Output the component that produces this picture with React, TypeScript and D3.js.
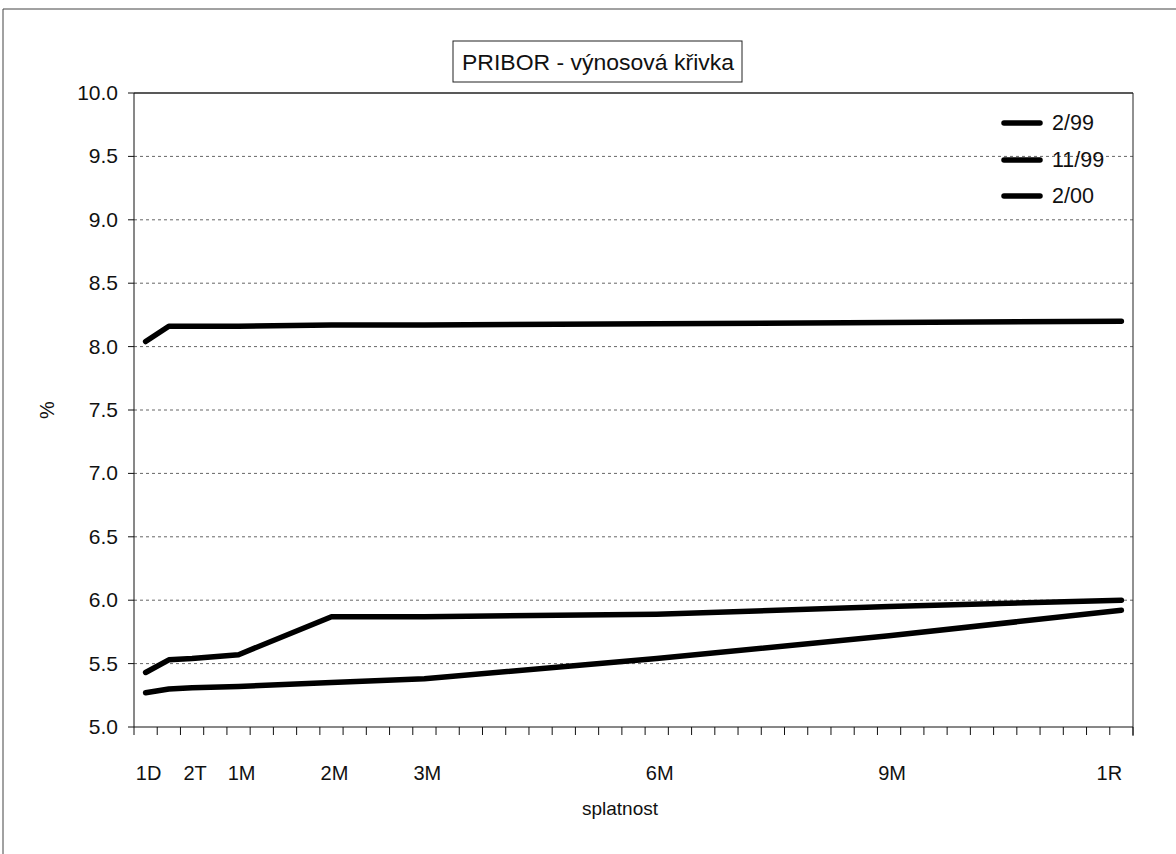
import React from "react";
import * as d3 from "d3";

// Maturities of the PRIBOR fixing and their slot on the category axis
const maturities = ["1D", "1T", "2T", "1M", "2M", "3M", "6M", "9M", "1R"];
const maturitySlots = [0, 1, 2, 4, 8, 12, 22, 32, 42];
const categoryCount = 43;

// Axis labels shown under the category axis
const tickLabels = ["1D", "2T", "1M", "2M", "3M", "6M", "9M", "1R"];
const tickLabelSlots = [0, 2, 4, 8, 12, 22, 32, 42];

// Yield curves (%) per maturity
const seriesNames = ["2/99", "11/99", "2/00"];
const rates299 = [8.04, 8.16, 8.16, 8.16, 8.17, 8.17, 8.18, 8.19, 8.2];
const rates1199 = [5.27, 5.3, 5.31, 5.32, 5.35, 5.38, 5.54, 5.72, 5.92];
const rates200 = [5.43, 5.53, 5.54, 5.57, 5.87, 5.87, 5.89, 5.95, 6.0];

const yTicks = [5.0, 5.5, 6.0, 6.5, 7.0, 7.5, 8.0, 8.5, 9.0, 9.5, 10.0];

const W = 1176;
const H = 854;
const plot = { left: 134, right: 1133, top: 93, bottom: 727 };
const FONT = "'Liberation Sans', Arial, sans-serif";

export default function App() {
  const x = d3
    .scaleLinear()
    .domain([0, categoryCount])
    .range([plot.left, plot.right]);
  const y = d3.scaleLinear().domain([5, 10]).range([plot.bottom, plot.top]);

  const line = d3
    .line<number>()
    .x((_, i) => x(maturitySlots[i] + 0.5))
    .y((d) => y(d));

  const series = [rates299, rates1199, rates200];
  const boundaries = d3.range(0, categoryCount + 1);
  const legendY = [123, 160, 196];

  return (
    <svg
      width={W}
      height={H}
      style={{ position: "absolute", left: 0, top: 0, background: "#fff" }}
      fontFamily={FONT}
    >
      {/* chart frame */}
      <line x1={3} y1={9} x2={W} y2={9} stroke="#444" strokeWidth={1} />
      <line x1={3} y1={9} x2={3} y2={H} stroke="#444" strokeWidth={1} />

      {/* title */}
      <rect x={453} y={41} width={289} height={41} fill="#fff" stroke="#222" strokeWidth={1} />
      <text x={598} y={70} textAnchor="middle" fontSize={21.5} fill="#111" textLength={272} lengthAdjust="spacingAndGlyphs">
        PRIBOR - výnosová křivka
      </text>

      {/* horizontal gridlines */}
      {yTicks
        .filter((t) => t > 5 && t < 10)
        .map((t) => (
          <line
            key={"g" + t}
            x1={plot.left}
            x2={plot.right}
            y1={y(t)}
            y2={y(t)}
            stroke="#666"
            strokeWidth={1}
            strokeDasharray="3,3"
          />
        ))}

      {/* plot area border */}
      <line x1={plot.left} x2={plot.right} y1={plot.top} y2={plot.top} stroke="#222" strokeWidth={1.3} />
      <line x1={plot.right} x2={plot.right} y1={plot.top} y2={plot.bottom + 9} stroke="#222" strokeWidth={1} />

      {/* y axis */}
      <line x1={plot.left} x2={plot.left} y1={plot.top} y2={plot.bottom} stroke="#111" strokeWidth={1} />
      {yTicks.map((t) => (
        <g key={"y" + t}>
          <line x1={plot.left - 6} x2={plot.left} y1={y(t)} y2={y(t)} stroke="#111" />
          <text x={118} y={y(t) + 7} textAnchor="end" fontSize={21} fill="#111">
            {t.toFixed(1)}
          </text>
        </g>
      ))}
      <text
        transform={`translate(54,${(plot.top + plot.bottom) / 2}) rotate(-90)`}
        textAnchor="middle"
        fontSize={20}
        fill="#111"
      >
        %
      </text>

      {/* x axis */}
      <line x1={plot.left} x2={plot.right} y1={plot.bottom} y2={plot.bottom} stroke="#111" strokeWidth={1} />
      {boundaries.map((b) => (
        <line
          key={"xt" + b}
          x1={x(b)}
          x2={x(b)}
          y1={plot.bottom}
          y2={plot.bottom + 8}
          stroke="#111"
        />
      ))}
      {tickLabels.map((lab, i) => (
        <text
          key={"xl" + lab}
          x={x(tickLabelSlots[i] + 0.5) + (i === tickLabels.length - 1 ? -12 : 3)}
          y={780}
          textAnchor="middle"
          fontSize={20}
          fill="#111"
        >
          {lab}
        </text>
      ))}
      <text x={620} y={815} textAnchor="middle" fontSize={19} fill="#111">
        splatnost
      </text>

      {/* yield curves */}
      {series.map((s, i) => (
        <path
          key={seriesNames[i]}
          d={line(s) || ""}
          fill="none"
          stroke="#000"
          strokeWidth={5.5}
          strokeLinejoin="round"
          strokeLinecap="round"
        />
      ))}

      {/* legend */}
      {seriesNames.map((name, i) => (
        <g key={"lg" + name}>
          <line
            x1={1004}
            x2={1040}
            y1={legendY[i]}
            y2={legendY[i]}
            stroke="#000"
            strokeWidth={5.5}
            strokeLinecap="round"
          />
          <text x={1052} y={legendY[i] + 7} fontSize={21.5} fill="#111">
            {name}
          </text>
        </g>
      ))}
    </svg>
  );
}
